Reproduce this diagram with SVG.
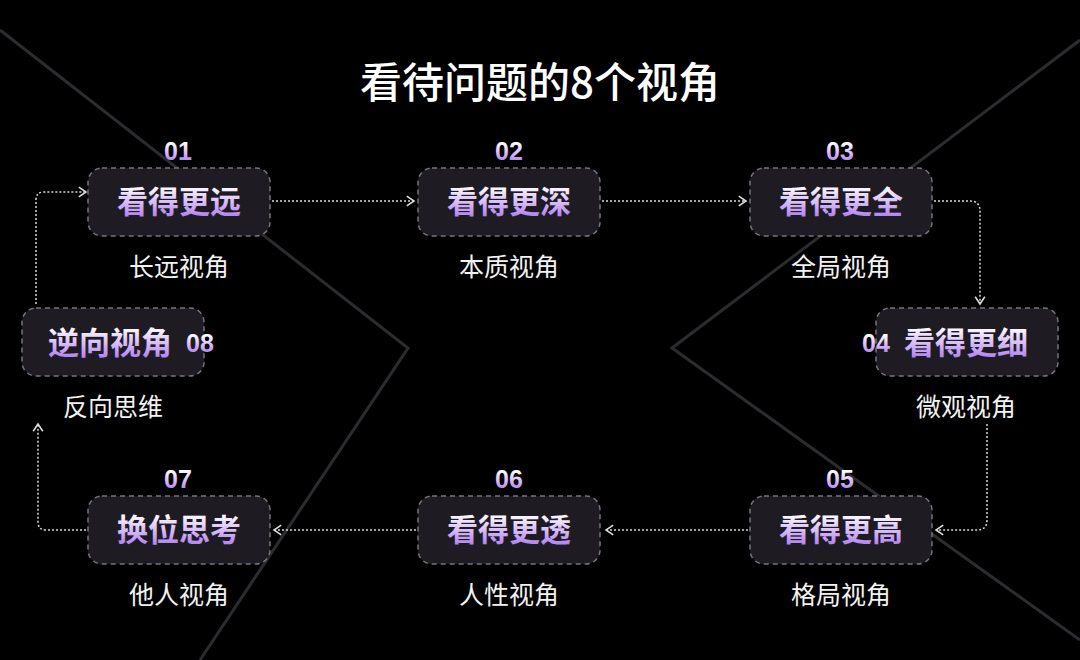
<svg xmlns="http://www.w3.org/2000/svg" width="1080" height="660" viewBox="0 0 1080 660">
<defs>
<linearGradient id="tg" x1="0" y1="0" x2="0" y2="1"><stop offset="0.2" stop-color="#ffffff"/><stop offset="1" stop-color="#a56cf0"/></linearGradient>
<marker id="ar" viewBox="0 0 10 10" refX="8" refY="5" markerWidth="8" markerHeight="8" orient="auto"><path d="M2,1 L8,5 L2,9" fill="none" stroke="#ddd" stroke-width="1.3"/></marker>
<style>
.box{fill:#1e1c22;stroke:#77737c;stroke-width:1.5;stroke-dasharray:5 4}
.t{font-family:"Noto Sans CJK SC",sans-serif;font-weight:700;font-size:31px;fill:url(#tg);text-anchor:middle}
.n{font-family:"Liberation Sans",sans-serif;font-weight:700;font-size:25px;fill:url(#tg);text-anchor:middle}
.s{font-family:"Noto Sans CJK SC",sans-serif;font-size:25px;fill:#f2f2f2;text-anchor:middle}
.c{fill:none;stroke:#d8d8d8;stroke-width:1.5;stroke-dasharray:2 2;marker-end:url(#ar)}
.bg{stroke:#2c2c30;stroke-width:3;fill:none}
</style>
</defs>
<rect width="1080" height="660" fill="#000"/>
<path class="bg" d="M0,30 L408,348 L200,660"/>
<path class="bg" d="M1080,40 L672,348 L1080,640"/>
<text x="540" y="98" font-family="Noto Sans CJK SC,sans-serif" font-weight="500" font-size="42" fill="#fff" text-anchor="middle">看待问题的8个视角</text>
<g id="connectors">
<path class="c" d="M272,201 H414"/>
<path class="c" d="M602,201 H746"/>
<path class="c" d="M934,201 H970 Q980,201 980,211 V304"/>
<path class="c" d="M987,424 V520 Q987,530 977,530 H936"/>
<path class="c" d="M748,530 H606"/>
<path class="c" d="M416,530 H274"/>
<path class="c" d="M86,530 H46 Q38,530 38,522 V424"/>
<path class="c" d="M36,304 V200 Q36,192 44,192 H86"/>
</g>
<g id="n01"><text class="n" x="178" y="160">01</text><rect class="box" x="88" y="168" width="182" height="68" rx="14"/><text class="t" x="179" y="213">看得更远</text><text class="s" x="179" y="276">长远视角</text></g>
<g id="n02"><text class="n" x="509" y="160">02</text><rect class="box" x="418" y="168" width="182" height="68" rx="14"/><text class="t" x="509" y="213">看得更深</text><text class="s" x="509" y="276">本质视角</text></g>
<g id="n03"><text class="n" x="840" y="160">03</text><rect class="box" x="750" y="168" width="182" height="68" rx="14"/><text class="t" x="841" y="213">看得更全</text><text class="s" x="841" y="276">全局视角</text></g>
<g id="n04"><rect class="box" x="876" y="308" width="182" height="68" rx="14"/><text class="n" x="876" y="352">04</text><text class="t" x="966" y="354">看得更细</text><text class="s" x="966" y="416">微观视角</text></g>
<g id="n05"><text class="n" x="840" y="488">05</text><rect class="box" x="750" y="496" width="182" height="68" rx="14"/><text class="t" x="841" y="541">看得更高</text><text class="s" x="841" y="604">格局视角</text></g>
<g id="n06"><text class="n" x="509" y="488">06</text><rect class="box" x="418" y="496" width="182" height="68" rx="14"/><text class="t" x="509" y="541">看得更透</text><text class="s" x="509" y="604">人性视角</text></g>
<g id="n07"><text class="n" x="178" y="488">07</text><rect class="box" x="88" y="496" width="182" height="68" rx="14"/><text class="t" x="179" y="541">换位思考</text><text class="s" x="179" y="604">他人视角</text></g>
<g id="n08"><rect class="box" x="22" y="308" width="182" height="68" rx="14"/><text class="t" x="110" y="354">逆向视角</text><text class="n" x="200" y="352">08</text><text class="s" x="113" y="416">反向思维</text></g>
</svg>
